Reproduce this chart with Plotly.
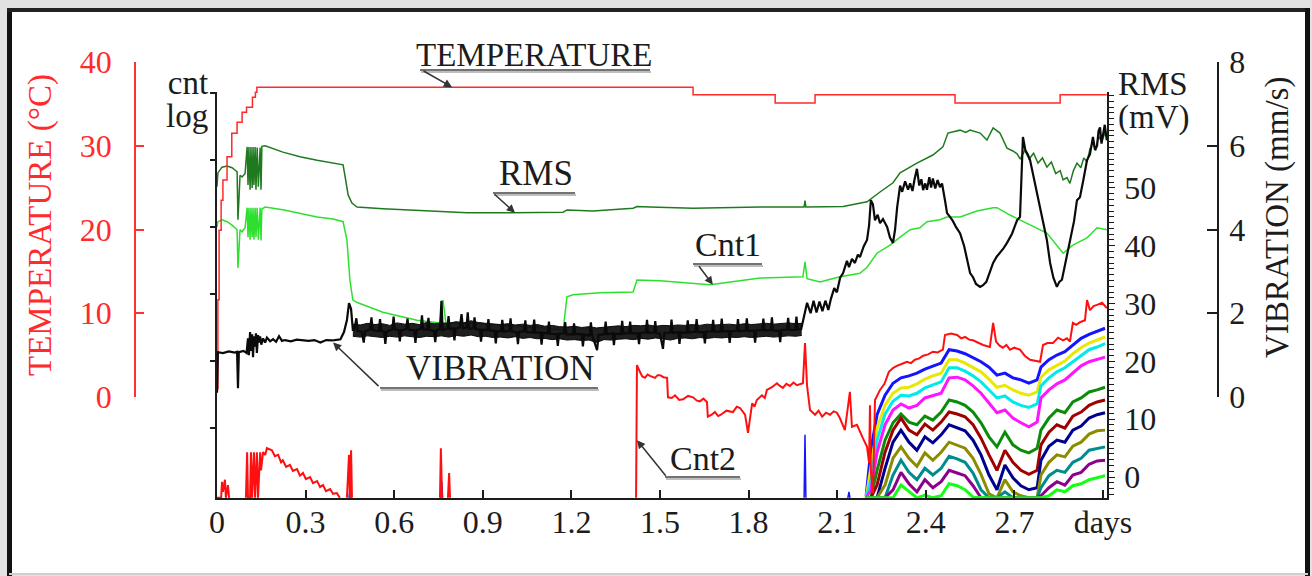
import plotly.graph_objects as go

# ---------------------------------------------------------------- data ----
# time axis in days; counts on a log10 scale; RMS in mV; vibration in mm/s

temp_pts = [(0.000, 1.0), (0.003, 11.6), (0.007, 19.9), (0.014, 23.5), (0.020, 25.9),
            (0.034, 28.7), (0.050, 31.5), (0.068, 32.8), (0.085, 34.0), (0.100, 34.6),
            (0.120, 35.8), (0.130, 36.4), (0.135, 37.0), (1.612, 36.1), (1.890, 35.1),
            (2.025, 36.1), (2.499, 35.1), (2.855, 36.1), (3.013, 36.1)]

rms_pts = [(0.000, 50.2), (0.003, 52.6), (0.017, 53.6), (0.034, 53.8), (0.051, 53.5),
           (0.068, 52.8), (0.071, 44.5), (0.078, 52.2), (0.085, 51.9), (0.095, 52.5),
           (0.102, 57.1), (0.105, 50.5), (0.108, 57.1), (0.112, 49.7), (0.115, 57.1),
           (0.119, 50.0), (0.122, 57.1), (0.125, 50.5), (0.129, 57.1), (0.132, 49.7),
           (0.136, 57.0), (0.140, 50.2), (0.146, 57.0), (0.149, 49.7), (0.152, 57.2),
           (0.163, 57.3), (0.223, 56.2), (0.281, 55.4), (0.339, 54.8), (0.393, 54.3),
           (0.427, 54.0), (0.433, 52.2), (0.444, 48.8), (0.457, 47.4), (0.474, 46.7),
           (0.562, 46.4), (0.731, 46.0), (0.847, 45.7), (1.002, 45.7), (1.172, 45.8),
           (1.185, 46.2), (1.273, 46.0), (1.409, 46.5), (1.422, 46.8), (1.466, 46.7),
           (1.612, 46.5), (1.839, 46.7), (1.988, 46.7), (1.991, 47.8), (1.994, 46.7),
           (2.120, 46.8), (2.201, 47.6), (2.245, 49.3), (2.289, 50.9), (2.313, 52.6),
           (2.370, 54.3), (2.424, 55.7), (2.458, 57.1), (2.475, 59.5), (2.500, 59.8),
           (2.516, 60.0), (2.535, 59.6), (2.550, 60.0), (2.584, 59.5), (2.607, 58.3),
           (2.628, 60.4), (2.640, 60.0), (2.651, 59.5), (2.675, 56.9), (2.695, 56.4),
           (2.709, 55.9), (2.720, 55.0), (2.735, 56.5), (2.750, 55.0), (2.765, 56.0),
           (2.780, 54.3), (2.795, 55.2), (2.810, 53.6), (2.825, 54.5), (2.840, 52.5),
           (2.855, 53.0), (2.865, 51.4), (2.878, 51.8), (2.888, 50.8), (2.900, 53.0),
           (2.912, 54.3), (2.925, 53.5), (2.935, 55.2), (2.946, 54.5), (2.956, 56.8),
           (2.966, 57.8), (2.975, 56.5), (2.985, 59.0), (2.995, 58.0), (3.007, 59.5)]

cnt1_pts = [(0.000, 3.70), (0.003, 3.78), (0.017, 3.81), (0.034, 3.78), (0.051, 3.73),
            (0.068, 3.66), (0.071, 3.09), (0.078, 3.66), (0.085, 3.63), (0.095, 3.69),
            (0.102, 3.99), (0.105, 3.55), (0.108, 3.99), (0.112, 3.51), (0.115, 3.99),
            (0.119, 3.55), (0.122, 3.99), (0.125, 3.51), (0.129, 3.99), (0.132, 3.55),
            (0.136, 3.99), (0.140, 3.51), (0.146, 3.99), (0.149, 3.50), (0.152, 3.97),
            (0.163, 4.00), (0.223, 3.96), (0.281, 3.91), (0.339, 3.85), (0.393, 3.82),
            (0.427, 3.78), (0.440, 3.51), (0.450, 2.91), (0.460, 2.61), (0.477, 2.57),
            (0.562, 2.43), (0.677, 2.31), (0.755, 2.27), (0.765, 2.61), (0.775, 2.27),
            (0.847, 2.27), (0.958, 2.24), (1.070, 2.21), (1.172, 2.16), (1.185, 2.66),
            (1.205, 2.69), (1.273, 2.72), (1.297, 2.72), (1.409, 2.73), (1.422, 2.91),
            (1.500, 2.90), (1.669, 2.84), (1.839, 2.94), (1.984, 2.96), (1.991, 3.18),
            (1.998, 2.93), (2.042, 2.88), (2.109, 2.96), (2.177, 3.01), (2.201, 3.10),
            (2.235, 3.31), (2.279, 3.43), (2.313, 3.55), (2.347, 3.66), (2.380, 3.69),
            (2.404, 3.78), (2.448, 3.81), (2.472, 3.85), (2.516, 3.85), (2.573, 3.94),
            (2.628, 3.99), (2.641, 3.99), (2.685, 3.88), (2.743, 3.76), (2.810, 3.61),
            (2.865, 3.31), (2.898, 3.43), (2.946, 3.54), (2.980, 3.69), (3.013, 3.66)]

cnt2_pts = [(0.000, -0.34), (0.014, -0.34), (0.017, -0.10), (0.020, -0.25), (0.027, -0.07),
            (0.030, -0.34), (0.037, -0.15), (0.041, -0.34), (None, None),
            (0.098, -0.34), (0.102, 0.34), (0.105, -0.34), (0.112, -0.34), (0.115, 0.34),
            (0.119, -0.34), (0.125, 0.34), (0.129, -0.34), (0.135, 0.34), (0.139, -0.34),
            (0.146, 0.34), (0.149, 0.07), (0.156, 0.34), (0.163, 0.30), (0.169, 0.40),
            (0.186, 0.37), (0.196, 0.28), (0.207, 0.30), (0.217, 0.19), (0.223, 0.22),
            (0.234, 0.12), (0.247, 0.15), (0.257, 0.06), (0.271, 0.09), (0.281, -0.01),
            (0.291, 0.03), (0.301, -0.06), (0.315, -0.03), (0.325, -0.12), (0.339, -0.09),
            (0.349, -0.18), (0.359, -0.15), (0.369, -0.24), (0.383, -0.21), (0.393, -0.28),
            (0.406, -0.27), (0.416, -0.34), (None, None),
            (0.440, -0.34), (0.444, 0.07), (0.447, 0.30), (0.450, -0.34), (0.454, 0.37),
            (0.457, -0.34), (None, None),
            (0.755, -0.34), (0.758, 0.40), (0.762, -0.34), (None, None),
            (0.782, -0.34), (0.786, 0.03), (0.789, -0.34), (None, None),
            (1.419, -0.34), (1.422, 1.64), (1.432, 1.54), (1.440, 1.47), (1.449, 1.45),
            (1.458, 1.50), (1.466, 1.48), (1.475, 1.46), (1.483, 1.45), (1.492, 1.49),
            (1.500, 1.49), (1.512, 1.46), (1.524, 1.45), (1.527, 1.16), (1.540, 1.15),
            (1.551, 1.19), (1.565, 1.12), (1.578, 1.13), (1.595, 1.18), (1.612, 1.16),
            (1.625, 1.11), (1.635, 1.10), (1.647, 1.14), (1.659, 1.09), (1.662, 0.87),
            (1.675, 0.90), (1.686, 0.94), (1.697, 0.88), (1.706, 0.90), (1.725, 0.96),
            (1.747, 0.94), (1.760, 1.02), (1.771, 1.00), (1.788, 0.90), (1.798, 0.63),
            (1.812, 1.07), (1.820, 1.02), (1.828, 1.12), (1.845, 1.19), (1.855, 1.15),
            (1.862, 1.27), (1.879, 1.31), (1.896, 1.37), (1.906, 1.33), (1.916, 1.30),
            (1.928, 1.36), (1.940, 1.33), (1.952, 1.38), (1.964, 1.34), (1.984, 1.37),
            (1.991, 1.97), (1.998, 1.33), (2.008, 0.97), (2.025, 0.90), (2.037, 0.96),
            (2.049, 0.87), (2.062, 0.93), (2.076, 0.90), (2.088, 0.95), (2.099, 0.93),
            (2.109, 0.85), (2.126, 0.67), (2.143, 1.24), (2.150, 0.72), (2.167, 0.75),
            (2.187, 0.55), (2.201, 0.42), (2.208, 0.18), (2.211, 1.04), (2.214, 0.07),
            (2.221, -0.27), (2.228, 1.12), (2.245, 1.27), (2.260, 1.36), (2.275, 1.54),
            (2.290, 1.60), (2.302, 1.63), (2.320, 1.66), (2.336, 1.69), (2.350, 1.67),
            (2.363, 1.72), (2.378, 1.74), (2.391, 1.78), (2.408, 1.80), (2.424, 1.84),
            (2.440, 1.83), (2.458, 1.87), (2.465, 2.09), (2.485, 2.11), (2.506, 2.09),
            (2.520, 2.04), (2.533, 2.06), (2.547, 2.02), (2.560, 2.01), (2.577, 1.97),
            (2.594, 1.94), (2.617, 1.91), (2.628, 2.27), (2.638, 1.99), (2.650, 1.93),
            (2.661, 1.90), (2.673, 1.94), (2.685, 1.87), (2.700, 1.90), (2.719, 1.87),
            (2.735, 1.78), (2.753, 1.72), (2.770, 1.70), (2.787, 1.69), (2.797, 1.94),
            (2.812, 1.97), (2.831, 1.97), (2.848, 2.05), (2.865, 2.01), (2.878, 2.04),
            (2.888, 1.99), (2.898, 2.27), (2.910, 2.24), (2.922, 2.28), (2.939, 2.31),
            (2.946, 2.61), (2.956, 2.46), (2.968, 2.52), (2.980, 2.54), (2.997, 2.57),
            (3.013, 2.49)]

vib_pts = [(0.000, 0.10), (0.003, 1.07), (0.020, 1.05), (0.040, 1.09), (0.060, 1.06),
           (0.068, 1.08), (0.071, 0.21), (0.074, 1.07), (0.090, 1.10), (0.100, 1.05),
           (0.105, 1.40), (0.108, 1.00), (0.112, 1.55), (0.115, 1.10), (0.119, 1.50),
           (0.122, 0.95), (0.125, 1.45), (0.129, 1.20), (0.132, 1.52), (0.135, 1.05),
           (0.139, 1.48), (0.142, 1.30), (0.146, 1.45), (0.150, 1.25), (0.156, 1.40),
           (0.163, 1.30), (0.169, 1.42), (0.180, 1.33), (0.190, 1.38), (0.200, 1.32),
           (0.210, 1.45), (0.220, 1.34), (0.230, 1.36), (0.250, 1.33), (0.270, 1.37),
           (0.290, 1.35), (0.310, 1.34), (0.330, 1.36), (0.350, 1.30), (0.370, 1.36),
           (0.390, 1.35), (0.410, 1.37), (0.418, 1.38), (0.430, 1.55), (0.440, 1.84),
           (0.447, 2.24), (0.454, 2.10), (0.460, 1.60),
           (0.465, 1.60), (0.472, 1.88), (0.476, 1.58), (0.490, 1.56), (0.497, 1.30),
           (0.501, 1.57), (0.518, 1.61), (0.523, 1.90), (0.527, 1.60), (0.548, 1.57),
           (0.552, 1.86), (0.556, 1.58), (0.566, 1.55), (0.570, 1.27), (0.574, 1.56),
           (0.594, 1.62), (0.598, 1.92), (0.602, 1.61), (0.615, 1.60), (0.619, 1.33),
           (0.623, 1.59), (0.641, 1.62), (0.645, 1.87), (0.649, 1.61), (0.668, 1.59),
           (0.672, 1.29), (0.676, 1.60), (0.690, 1.63), (0.694, 1.95), (0.698, 1.62),
           (0.712, 1.61), (0.716, 1.89), (0.720, 1.60), (0.735, 1.58), (0.739, 1.31),
           (0.743, 1.59), (0.755, 1.62), (0.760, 2.30), (0.764, 1.60), (0.780, 1.63),
           (0.784, 1.93), (0.788, 1.62), (0.800, 1.64), (0.804, 1.35), (0.808, 1.63),
           (0.822, 1.66), (0.828, 1.98), (0.833, 1.64), (0.845, 1.66), (0.849, 2.02),
           (0.853, 1.63), (0.868, 1.64), (0.872, 1.90), (0.876, 1.62), (0.890, 1.60),
           (0.894, 1.32), (0.898, 1.61), (0.915, 1.60), (0.919, 1.86), (0.923, 1.59),
           (0.940, 1.58), (0.944, 1.28), (0.948, 1.57), (0.962, 1.57), (0.966, 1.84),
           (0.970, 1.56), (0.990, 1.58), (0.994, 1.88), (0.998, 1.57), (1.015, 1.55),
           (1.019, 1.26), (1.023, 1.56), (1.040, 1.57), (1.044, 1.83), (1.048, 1.55),
           (1.070, 1.54), (1.074, 1.85), (1.078, 1.53), (1.095, 1.54), (1.099, 1.25),
           (1.103, 1.53), (1.120, 1.52), (1.124, 1.80), (1.128, 1.51), (1.150, 1.50),
           (1.154, 1.22), (1.158, 1.51), (1.175, 1.52), (1.179, 1.79), (1.183, 1.50),
           (1.205, 1.49), (1.209, 1.76), (1.213, 1.50), (1.235, 1.50), (1.239, 1.21),
           (1.243, 1.49), (1.262, 1.47), (1.266, 1.78), (1.270, 1.48), (1.287, 1.12),
           (1.292, 1.48), (1.312, 1.50), (1.316, 1.80), (1.320, 1.50), (1.340, 1.52),
           (1.344, 1.24), (1.348, 1.51), (1.368, 1.50), (1.372, 1.82), (1.376, 1.51),
           (1.395, 1.53), (1.399, 1.80), (1.403, 1.52), (1.425, 1.52), (1.429, 1.26),
           (1.433, 1.53), (1.452, 1.54), (1.456, 1.84), (1.460, 1.53), (1.480, 1.54),
           (1.484, 1.81), (1.488, 1.52), (1.500, 1.51), (1.510, 1.15), (1.515, 1.53),
           (1.535, 1.54), (1.539, 1.85), (1.543, 1.53), (1.562, 1.55), (1.566, 1.27),
           (1.570, 1.54), (1.590, 1.53), (1.594, 1.83), (1.598, 1.54), (1.620, 1.56),
           (1.624, 1.86), (1.628, 1.55), (1.648, 1.55), (1.652, 1.28), (1.656, 1.56),
           (1.676, 1.57), (1.680, 1.84), (1.684, 1.56), (1.705, 1.56), (1.709, 1.87),
           (1.713, 1.57), (1.732, 1.58), (1.736, 1.29), (1.740, 1.57), (1.760, 1.58),
           (1.764, 1.86), (1.768, 1.57), (1.790, 1.59), (1.794, 1.88), (1.798, 1.58),
           (1.818, 1.58), (1.822, 1.30), (1.826, 1.59), (1.846, 1.60), (1.850, 1.87),
           (1.854, 1.59), (1.875, 1.60), (1.879, 1.90), (1.883, 1.59), (1.903, 1.58),
           (1.907, 1.31), (1.911, 1.60), (1.930, 1.61), (1.934, 1.89), (1.938, 1.60),
           (1.958, 1.60), (1.962, 1.92), (1.966, 1.61), (1.978, 1.62),
           (1.990, 2.00), (1.998, 2.25), (2.010, 2.00), (2.020, 2.30), (2.030, 2.02),
           (2.040, 2.28), (2.050, 2.05), (2.060, 2.30), (2.070, 2.08), (2.079, 2.35),
           (2.090, 2.60), (2.099, 2.50), (2.110, 2.85), (2.120, 2.96), (2.133, 3.25),
           (2.140, 3.10), (2.150, 3.30), (2.160, 3.20), (2.170, 3.40), (2.177, 3.34),
           (2.190, 3.60), (2.201, 3.75), (2.208, 4.10), (2.214, 4.70), (2.221, 4.60),
           (2.228, 4.22), (2.237, 4.35), (2.245, 4.15), (2.255, 4.25), (2.269, 4.06),
           (2.279, 3.80), (2.289, 3.68), (2.296, 4.00), (2.303, 4.53), (2.313, 5.05),
           (2.320, 4.90), (2.330, 5.15), (2.340, 4.95), (2.347, 5.10), (2.355, 4.92),
           (2.362, 5.20), (2.370, 5.45), (2.378, 5.05), (2.385, 5.20), (2.391, 4.94),
           (2.398, 5.10), (2.404, 4.95), (2.412, 5.25), (2.418, 5.00), (2.424, 5.22),
           (2.432, 4.98), (2.440, 5.18), (2.448, 5.01), (2.455, 5.10), (2.465, 4.70),
           (2.472, 4.39), (2.482, 4.30), (2.492, 4.20), (2.503, 4.05), (2.516, 3.91),
           (2.530, 3.60), (2.543, 3.20), (2.550, 2.96), (2.560, 2.86), (2.570, 2.70),
           (2.584, 2.63), (2.594, 2.67), (2.605, 2.75), (2.617, 2.96), (2.628, 3.20),
           (2.640, 3.35), (2.651, 3.44), (2.663, 3.55), (2.675, 3.68), (2.685, 3.80),
           (2.692, 3.90), (2.700, 4.05), (2.709, 4.22), (2.719, 4.30), (2.724, 5.40),
           (2.729, 6.21), (2.737, 5.90), (2.745, 5.80), (2.753, 5.66), (2.765, 5.25),
           (2.780, 4.80), (2.795, 4.25), (2.810, 3.75), (2.821, 3.20), (2.832, 2.85),
           (2.844, 2.63), (2.852, 2.75), (2.861, 2.80), (2.870, 3.10), (2.878, 3.44),
           (2.890, 3.85), (2.902, 4.20), (2.912, 4.70), (2.922, 4.77), (2.934, 5.20),
           (2.946, 5.66), (2.956, 5.80), (2.966, 6.21), (2.973, 5.90), (2.980, 6.00),
           (2.985, 6.35), (2.990, 6.44), (2.995, 6.05), (3.000, 6.30), (3.006, 6.50),
           (3.013, 6.13)]

# spread (max / min) of the vibration signal over the quiet middle period
vib_band_t = [0.460, 0.485, 0.510, 0.535, 0.560, 0.585, 0.610, 0.635, 0.660, 0.685,
              0.710, 0.735, 0.760, 0.785, 0.810, 0.835, 0.860, 0.885, 0.910, 0.935,
              0.960, 0.985, 1.010, 1.035, 1.060, 1.085, 1.110, 1.135, 1.160, 1.185,
              1.210, 1.235, 1.260, 1.285, 1.310, 1.335, 1.360, 1.385, 1.410, 1.435,
              1.460, 1.485, 1.510, 1.535, 1.560, 1.585, 1.610, 1.635, 1.660, 1.685,
              1.710, 1.735, 1.760, 1.785, 1.810, 1.835, 1.860, 1.885, 1.910, 1.935,
              1.960, 1.980]
vib_band_hi = [1.74, 1.72, 1.76, 1.73, 1.75, 1.71, 1.77, 1.74, 1.76, 1.73,
               1.78, 1.75, 1.77, 1.76, 1.80, 1.77, 1.82, 1.78, 1.76, 1.74,
               1.73, 1.75, 1.72, 1.74, 1.71, 1.73, 1.69, 1.71, 1.68, 1.67,
               1.69, 1.66, 1.68, 1.65, 1.67, 1.69, 1.70, 1.68, 1.71, 1.70,
               1.72, 1.69, 1.71, 1.70, 1.72, 1.71, 1.73, 1.71, 1.74, 1.72,
               1.73, 1.74, 1.72, 1.75, 1.73, 1.74, 1.76, 1.74, 1.75, 1.77,
               1.75, 1.76]
vib_band_lo = [1.45, 1.43, 1.46, 1.44, 1.42, 1.45, 1.43, 1.46, 1.44, 1.42,
               1.45, 1.44, 1.46, 1.43, 1.47, 1.45, 1.48, 1.44, 1.45, 1.42,
               1.43, 1.41, 1.44, 1.40, 1.42, 1.39, 1.40, 1.37, 1.39, 1.36,
               1.37, 1.35, 1.36, 1.30, 1.37, 1.36, 1.38, 1.39, 1.37, 1.40,
               1.38, 1.41, 1.39, 1.36, 1.40, 1.41, 1.39, 1.42, 1.40, 1.42,
               1.41, 1.43, 1.42, 1.44, 1.42, 1.43, 1.45, 1.43, 1.44, 1.46,
               1.45, 1.47]

# isolated spikes of the first amplitude bin before the bundle starts
bin1_spikes = [(0.447, -0.34), (0.450, -0.22), (0.454, -0.34), (None, None),
               (0.758, -0.34), (0.761, -0.10), (0.764, -0.34), (None, None),
               (1.988, -0.34), (1.991, 0.60), (1.994, -0.34), (None, None),
               (2.136, -0.34), (2.140, -0.25), (2.143, -0.34)]

# amplitude-bin counts (log10) on a shared time grid
bin_t = [2.198, 2.214, 2.235, 2.262, 2.289, 2.316, 2.343, 2.370, 2.397, 2.424,
         2.452, 2.479, 2.506, 2.533, 2.560, 2.587, 2.614, 2.641, 2.668, 2.695,
         2.722, 2.749, 2.777, 2.790, 2.817, 2.844, 2.871, 2.898, 2.926, 2.953,
         2.980, 3.007]
bin_blue = [-0.31, 0.37, 0.90, 1.19, 1.37, 1.45, 1.48, 1.52, 1.58, 1.63, 1.67, 1.87, 1.85, 1.81, 1.75, 1.69,
            1.61, 1.49, 1.52, 1.45, 1.42, 1.37, 1.42, 1.61, 1.72, 1.79, 1.84, 1.94, 2.04, 2.10, 2.15, 2.19]
bin_yellow = [-0.34, 0.10, 0.70, 1.04, 1.22, 1.30, 1.31, 1.36, 1.43, 1.48, 1.52, 1.72, 1.72, 1.67, 1.61, 1.54,
              1.43, 1.31, 1.34, 1.27, 1.22, 1.19, 1.24, 1.46, 1.57, 1.64, 1.70, 1.81, 1.90, 1.97, 2.01, 2.06]
bin_cyan = [-0.34, -0.07, 0.52, 0.91, 1.10, 1.19, 1.18, 1.22, 1.30, 1.34, 1.39, 1.60, 1.60, 1.55, 1.48, 1.39,
            1.27, 1.15, 1.18, 1.09, 1.04, 1.01, 1.06, 1.33, 1.45, 1.54, 1.60, 1.69, 1.79, 1.87, 1.91, 1.96]
bin_magenta = [-0.34, -0.22, 0.34, 0.75, 0.97, 1.06, 1.00, 1.04, 1.15, 1.19, 1.22, 1.45, 1.46, 1.42, 1.33, 1.22,
               1.07, 0.93, 0.97, 0.85, 0.78, 0.72, 0.79, 1.15, 1.27, 1.36, 1.42, 1.52, 1.63, 1.69, 1.73, 1.76]
bin_green = [-0.34, -0.34, 0.07, 0.52, 0.78, 0.91, 0.79, 0.75, 0.88, 0.82, 0.94, 1.12, 1.09, 1.04, 0.94, 0.78,
             0.57, 0.42, 0.64, 0.45, 0.37, 0.33, 0.40, 0.67, 0.85, 0.97, 0.93, 1.09, 1.15, 1.24, 1.27, 1.31]
bin_maroon = [-0.34, -0.34, -0.15, 0.34, 0.67, 0.85, 0.67, 0.60, 0.76, 0.67, 0.79, 0.94, 0.91, 0.87, 0.75, 0.55,
              0.30, 0.07, 0.37, 0.19, 0.07, 0.01, 0.07, 0.45, 0.64, 0.75, 0.70, 0.88, 0.94, 1.04, 1.09, 1.12]
bin_navy = [-0.34, -0.34, -0.34, 0.10, 0.49, 0.67, 0.49, 0.37, 0.57, 0.48, 0.60, 0.75, 0.70, 0.66, 0.52, 0.30,
            0.00, -0.22, 0.15, -0.04, -0.16, -0.22, -0.19, 0.22, 0.43, 0.52, 0.49, 0.67, 0.73, 0.85, 0.90, 0.93]
bin_olive = [-0.34, -0.34, -0.34, -0.15, 0.25, 0.42, 0.25, 0.13, 0.33, 0.22, 0.34, 0.49, 0.45, 0.40, 0.25, 0.01,
             -0.28, -0.34, -0.07, -0.25, -0.31, -0.34, -0.34, 0.00, 0.19, 0.30, 0.27, 0.43, 0.49, 0.61, 0.66, 0.67]
bin_teal = [-0.34, -0.34, -0.34, -0.34, 0.00, 0.22, 0.04, -0.07, 0.10, 0.00, 0.10, 0.28, 0.24, 0.19, 0.03, -0.22,
            -0.34, -0.34, -0.25, -0.34, -0.34, -0.34, -0.34, -0.19, -0.01, 0.07, 0.04, 0.19, 0.25, 0.37, 0.40, 0.42]
bin_purple = [-0.34, -0.34, -0.34, -0.34, -0.22, 0.04, -0.13, -0.25, -0.07, -0.19, -0.10, 0.07, 0.03, -0.01, -0.16, -0.34,
              -0.34, -0.34, -0.34, -0.34, -0.34, -0.34, -0.34, -0.31, -0.19, -0.10, -0.15, 0.00, 0.04, 0.16, 0.21, 0.22]
bin_lime = [-0.34, -0.34, -0.34, -0.34, -0.34, -0.15, -0.25, -0.34, -0.30, -0.34, -0.31, -0.13, -0.16, -0.22, -0.33, -0.34,
            -0.34, -0.34, -0.34, -0.34, -0.34, -0.34, -0.34, -0.34, -0.31, -0.22, -0.25, -0.16, -0.13, -0.07, -0.04, -0.01]

bin_series = [("#1414ff", bin_blue), ("#e8e800", bin_yellow), ("#00eaea", bin_cyan),
              ("#ff14ff", bin_magenta), ("#0a8c0a", bin_green), ("#a00000", bin_maroon),
              ("#000090", bin_navy), ("#8c8c00", bin_olive), ("#008c8c", bin_teal),
              ("#8c008c", bin_purple), ("#14ff14", bin_lime)]

x_ticks = [0, 0.3, 0.6, 0.9, 1.2, 1.5, 1.8, 2.1, 2.4, 2.7, 3.0]
x_labels = ["0", "0.3", "0.6", "0.9", "1.2", "1.5", "1.8", "2.1", "2.4", "2.7", "days"]
cnt_labels = [0, 1, 2, 3, 4]
cnt_marks = [0.699, 1.699, 2.699, 3.699, 4.699, 5.699]   # log10 of 5, 50, 500, ...
rms_labels = [0, 10, 20, 30, 40, 50]

# ------------------------------------------------------------- layout ----
W, H = 1312, 576
SERIF = "Liberation Serif, Times New Roman, serif"
INK = "#1c1c1c"


def fx(px):
    return px / W


def fy(py):
    return 1 - py / H


def split(pts):
    return [p[0] for p in pts], [p[1] for p in pts]


fig = go.Figure()

# counts (log) on the main left axis
for colour, vals in bin_series:
    fig.add_trace(go.Scatter(x=bin_t, y=vals, mode="lines", yaxis="y",
                             line=dict(color=colour, width=3)))
t, v = split(bin1_spikes)
fig.add_trace(go.Scatter(x=t, y=v, mode="lines", line=dict(color="#1414ff", width=1.5)))
t, v = split(cnt2_pts)
fig.add_trace(go.Scatter(x=t, y=v, mode="lines", line=dict(color="#ff1010", width=2)))
t, v = split(cnt1_pts)
fig.add_trace(go.Scatter(x=t, y=v, mode="lines", line=dict(color="#2ee02e", width=1.5)))
# RMS in mV
t, v = split(rms_pts)
fig.add_trace(go.Scatter(x=t, y=v, mode="lines", yaxis="y2",
                         line=dict(color="#1f7a1f", width=1.5)))
# temperature
t, v = split(temp_pts)
fig.add_trace(go.Scatter(x=t, y=v, mode="lines", yaxis="y3", line_shape="hv",
                         line=dict(color="#ff2a2a", width=1.5)))
# vibration: spread band, then the trace itself
fig.add_trace(go.Scatter(x=vib_band_t, y=vib_band_lo, mode="lines", yaxis="y4",
                         line=dict(color="#0a0a0a", width=1)))
fig.add_trace(go.Scatter(x=vib_band_t, y=vib_band_hi, mode="lines", yaxis="y4",
                         fill="tonexty", fillcolor="rgba(12,12,12,0.92)",
                         line=dict(color="#0a0a0a", width=1)))
t, v = split(vib_pts)
fig.add_trace(go.Scatter(x=t, y=v, mode="lines", yaxis="y4",
                         line=dict(color="#0a0a0a", width=2.2)))

tick_font = dict(family=SERIF, size=32, color=INK)
main_dom = [fy(498), fy(92)]
side_dom = [fy(397), fy(62)]
cnt_range = [-0.343, 5.716]
rms_range = [-3.63, 66.6]
common = dict(showgrid=False, zeroline=False, automargin=False)

fig.update_layout(
    width=W, height=H, margin=dict(l=0, r=0, t=0, b=0, pad=0, autoexpand=False),
    paper_bgcolor="#e2e2e2", plot_bgcolor="rgba(0,0,0,0)",
    showlegend=False,
    xaxis=dict(domain=[fx(217), fx(1107)], range=[0, 3.0136], anchor="y",
               tickmode="array", tickvals=x_ticks, ticktext=x_labels,
               ticks="inside", ticklen=8, tickwidth=1.5, tickcolor=INK,
               showline=True, linecolor=INK, linewidth=1.5,
               tickfont=tick_font, ticklabelstandoff=-5, **common),
    yaxis=dict(domain=main_dom, range=cnt_range, anchor="x", side="left",
               tickmode="array", tickvals=cnt_marks, ticks="outside", ticklen=5,
               tickwidth=1.5, tickcolor=INK, showticklabels=False,
               showline=True, linecolor=INK, linewidth=1.5, **common),
    yaxis5=dict(overlaying="y", range=cnt_range, anchor="x", side="left",
                tickmode="array", tickvals=cnt_marks, ticks="inside", ticklen=5,
                tickwidth=1.5, tickcolor=INK, showticklabels=False,
                showline=False, **common),
    yaxis6=dict(overlaying="y", range=cnt_range, anchor="x", side="left",
                tickmode="array", tickvals=cnt_labels, ticks="",
                showline=False, tickfont=tick_font, ticklabelstandoff=12, **common),
    yaxis2=dict(overlaying="y", range=rms_range, anchor="x", side="right",
                tickmode="array", tickvals=rms_labels, ticks="outside", ticklen=6,
                tickwidth=1.2, tickcolor=INK,
                minor=dict(tickmode="linear", tick0=0, dtick=1, ticks="outside",
                           ticklen=5, tickwidth=1, tickcolor=INK),
                showline=True, linecolor=INK, linewidth=1.5,
                tickfont=tick_font, ticklabelstandoff=3, **common),
    yaxis7=dict(overlaying="y", range=rms_range, anchor="x", side="right",
                tickmode="array", tickvals=rms_labels, ticks="inside", ticklen=6,
                tickwidth=1.2, tickcolor=INK, showticklabels=False,
                minor=dict(tickmode="linear", tick0=0, dtick=1, ticks="inside",
                           ticklen=5, tickwidth=1, tickcolor=INK),
                showline=False, **common),
    yaxis3=dict(domain=side_dom, range=[0, 40], anchor="free", position=fx(135),
                side="left", dtick=10, ticks="inside", ticklen=8, tickwidth=1.5,
                tickcolor="#ff3030", showline=True, linecolor="#ff3030",
                linewidth=1.5,
                tickfont=dict(family=SERIF, size=32, color="#ff2a2a"),
                ticklabelstandoff=16, **common),
    yaxis4=dict(domain=side_dom, range=[0, 8], anchor="free", position=fx(1218),
                side="right", dtick=2, ticks="inside", ticklen=10, tickwidth=1.5,
                tickcolor=INK, showline=True, linecolor=INK, linewidth=1.5,
                tickfont=tick_font, ticklabelstandoff=4, **common),
)

# page frame
shapes = [
    dict(type="rect", xref="paper", yref="paper", x0=fx(9), x1=fx(1308), y0=fy(574), y1=fy(10),
         fillcolor="white", line=dict(width=0), layer="below"),
    dict(type="line", xref="paper", yref="paper", x0=fx(9.5), x1=fx(9.5), y0=fy(576), y1=fy(8),
         line=dict(color="#111", width=5), layer="above"),
    dict(type="line", xref="paper", yref="paper", x0=fx(7), x1=fx(1310), y0=fy(10), y1=fy(10),
         line=dict(color="#222", width=4), layer="above"),
    dict(type="line", xref="paper", yref="paper", x0=fx(1307.5), x1=fx(1307.5), y0=fy(576), y1=fy(8),
         line=dict(color="#111", width=5), layer="above"),
    dict(type="line", xref="paper", yref="paper", x0=fx(9), x1=fx(1308), y0=fy(574), y1=fy(574),
         line=dict(color="#cfcfcf", width=2), layer="above"),
]

# underlines of the curve labels (with a soft drop shadow)
for x0, x1, yy in [(420, 650, 70), (493, 575, 193), (693, 762, 264),
                   (380, 598, 388), (665, 740, 477)]:
    shapes.append(dict(type="line", xref="paper", yref="paper", x0=fx(x0 + 1), x1=fx(x1 + 1),
                       y0=fy(yy + 2), y1=fy(yy + 2), line=dict(color="#bdbdbd", width=2)))
    shapes.append(dict(type="line", xref="paper", yref="paper", x0=fx(x0), x1=fx(x1),
                       y0=fy(yy), y1=fy(yy), line=dict(color="#444", width=1.6)))
fig.update_layout(shapes=shapes)

annotations = []
for text, cx, cy, size in [("TEMPERATURE", 534, 55, 33), ("RMS", 536, 174, 35),
                           ("Cnt1", 728, 244, 34), ("VIBRATION", 500, 368, 35),
                           ("Cnt2", 703, 458, 34)]:
    annotations.append(dict(text=text, x=fx(cx), y=fy(cy), xref="paper", yref="paper",
                            xanchor="center", yanchor="middle", showarrow=False,
                            font=dict(family=SERIF, size=size, color=INK)))

# leader arrows pointing at the curves
for xv, yv, yref, ax, ay in [(0.796, 37.0, "y3", -30, -17),
                             (1.009, 45.7, "y2", -22, -20),
                             (1.679, 2.84, "y", -15, -20),
                             (0.393, 1.30, "y4", 47, 45),
                             (1.422, 0.52, "y", 30, 37)]:
    annotations.append(dict(text="", x=xv, y=yv, xref="x", yref=yref, ax=ax, ay=ay,
                            showarrow=True, arrowhead=2, arrowsize=1.1, arrowwidth=1.5,
                            arrowcolor="#333"))

# axis captions; the two-line unit captions use a small base size so the
# lines sit close together, with the glyphs themselves enlarged
big = "<span style='font-size:33px'>{}</span>"
annotations += [
    dict(text="TEMPERATURE (°C)", x=fx(40), y=fy(225), xref="paper", yref="paper",
         textangle=-90, showarrow=False, xanchor="center", yanchor="middle",
         font=dict(family=SERIF, size=33, color="#ff2a2a")),
    dict(text="VIBRATION (mm/s)", x=fx(1277), y=fy(218), xref="paper", yref="paper",
         textangle=-90, showarrow=False, xanchor="center", yanchor="middle",
         font=dict(family=SERIF, size=33, color=INK)),
    dict(text=big.format("cnt") + "<br>" + big.format("log"), x=fx(210), y=fy(99),
         xref="paper", yref="paper", showarrow=False, align="right",
         xanchor="right", yanchor="middle", font=dict(family=SERIF, size=25, color=INK)),
    dict(text=big.format("RMS") + "<br>" + big.format("(mV)"), x=fx(1116), y=fy(101),
         xref="paper", yref="paper", showarrow=False, align="left",
         xanchor="left", yanchor="middle", font=dict(family=SERIF, size=25, color=INK)),
]
fig.update_layout(annotations=annotations)

fig.write_html("out.html",
               post_script="document.body.style.margin='0';document.body.style.overflow='hidden';")
